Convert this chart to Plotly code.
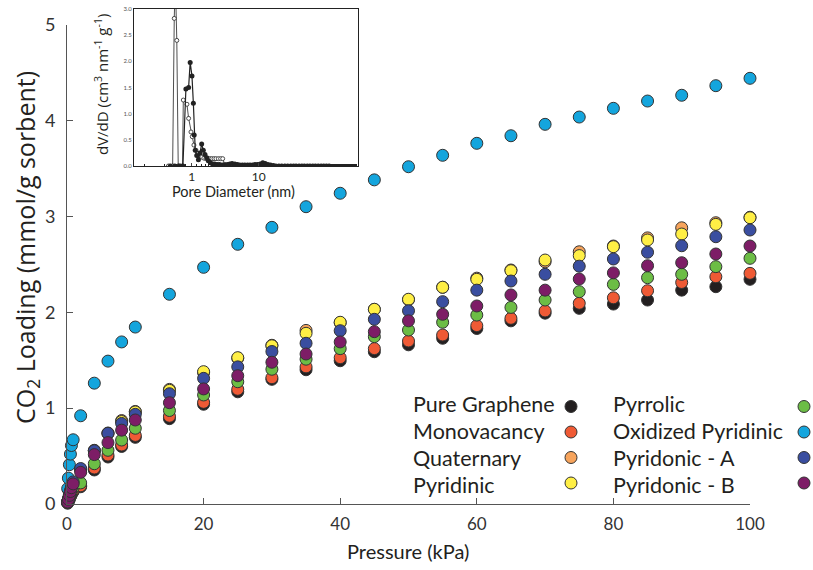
import plotly.graph_objects as go

# ---------------- main data ----------------
P_low = [0.1, 0.2, 0.35, 0.5, 0.65, 0.9]
P_main = [2, 4, 6, 8, 10, 15, 20, 25, 30, 35, 40, 45, 50, 55, 60, 65, 70, 75, 80, 85, 90, 95, 100]

series_names = ["Pure Graphene", "Monovacancy", "Quaternary", "Pyridinic",
                "Pyrrolic", "Oxidized Pyridinic", "Pyridonic - A", "Pyridonic - B"]
series_colors = ["#231F20", "#EF5A35", "#F7A45C", "#FFEF45",
                 "#6CBD45", "#14A5DD", "#3A4EA0", "#7D1D66"]

pure_graphene_low = [0.01, 0.03, 0.05, 0.08, 0.10, 0.13]
pure_graphene = [0.18, 0.355, 0.49, 0.60, 0.695, 0.89, 1.04, 1.17, 1.30, 1.40, 1.494, 1.588,
                 1.66, 1.728, 1.83, 1.91, 1.99, 2.04, 2.085, 2.127, 2.23, 2.266, 2.343]

monovacancy_low = [0.01, 0.03, 0.06, 0.08, 0.11, 0.14]
monovacancy = [0.19, 0.375, 0.51, 0.615, 0.715, 0.915, 1.06, 1.196, 1.317, 1.43, 1.526, 1.62,
               1.70, 1.762, 1.86, 1.936, 2.013, 2.093, 2.15, 2.224, 2.31, 2.37, 2.405]

quaternary_low = [0.02, 0.05, 0.09, 0.13, 0.17, 0.22]
quaternary = [0.36, 0.56, 0.74, 0.87, 0.965, 1.195, 1.37, 1.52, 1.655, 1.81, 1.89, 2.03,
              2.13, 2.26, 2.355, 2.44, 2.525, 2.63, 2.69, 2.775, 2.88, 2.933, 2.99]

pyridinic_low = [0.02, 0.05, 0.09, 0.13, 0.17, 0.22]
pyridinic = [0.355, 0.555, 0.735, 0.86, 0.96, 1.185, 1.38, 1.526, 1.65, 1.78, 1.895, 2.03,
             2.135, 2.26, 2.343, 2.433, 2.544, 2.59, 2.683, 2.753, 2.815, 2.916, 2.985]

pyrrolic_low = [0.02, 0.04, 0.07, 0.10, 0.13, 0.17]
pyrrolic = [0.22, 0.42, 0.56, 0.667, 0.79, 0.975, 1.137, 1.275, 1.405, 1.51, 1.62, 1.745,
            1.814, 1.895, 1.97, 2.05, 2.127, 2.214, 2.29, 2.36, 2.395, 2.475, 2.562]

oxidized_pyridinic_low = [0.16, 0.27, 0.41, 0.52, 0.61, 0.67]
oxidized_pyridinic = [0.92, 1.26, 1.49, 1.69, 1.845, 2.187, 2.468, 2.708, 2.885, 3.10, 3.24, 3.38,
                      3.517, 3.636, 3.761, 3.84, 3.959, 4.035, 4.126, 4.202, 4.262, 4.362, 4.439]

pyridonic_a_low = [0.02, 0.05, 0.10, 0.14, 0.18, 0.23]
pyridonic_a = [0.37, 0.555, 0.737, 0.84, 0.935, 1.15, 1.31, 1.43, 1.59, 1.676, 1.807, 1.926,
               2.015, 2.11, 2.23, 2.325, 2.395, 2.48, 2.555, 2.625, 2.693, 2.787, 2.857]

pyridonic_b_low = [0.02, 0.05, 0.09, 0.13, 0.17, 0.21]
pyridonic_b = [0.33, 0.515, 0.64, 0.77, 0.876, 1.056, 1.20, 1.338, 1.478, 1.564, 1.69, 1.797,
               1.91, 1.978, 2.065, 2.18, 2.23, 2.346, 2.41, 2.485, 2.516, 2.607, 2.69]

series_low = [pure_graphene_low, monovacancy_low, quaternary_low, pyridinic_low,
              pyrrolic_low, oxidized_pyridinic_low, pyridonic_a_low, pyridonic_b_low]
series_main = [pure_graphene, monovacancy, quaternary, pyridinic,
               pyrrolic, oxidized_pyridinic, pyridonic_a, pyridonic_b]

# ---------------- inset data (pore size distribution) ----------------
pore_d_filled = [0.48, 0.56, 0.65, 0.74, 0.82, 0.90, 0.95, 1.01, 1.06, 1.09, 1.13, 1.19, 1.26,
                 1.33, 1.41, 1.49, 1.58, 1.68, 1.77, 1.9, 2.05, 2.2, 2.4, 2.6, 2.85, 3.1, 3.4,
                 3.7, 4.0, 4.4, 4.8, 5.2, 5.7, 6.2, 6.8, 7.4, 8.1, 8.8, 9.6, 10.5, 11.5, 12.5,
                 13.7, 15, 16.5, 18, 20, 22, 24.5, 27, 30, 33, 36, 40, 44, 48, 53, 58, 64, 70,
                 77, 85, 93, 102, 112]
pore_v_filled = [0, 0, 0, 0, 1.47, 1.50, 1.98, 1.72, 1.20, 0.59, 0.30, 0.20, 0.12,
                 0.25, 0.42, 0.30, 0.22, 0.16, 0.10, 0.06, 0.04, 0.04, 0.03, 0.03, 0.02, 0.02, 0.03,
                 0.04, 0.05, 0.04, 0.03, 0.02, 0.02, 0.02, 0.02, 0.02, 0.02, 0.03, 0.03, 0.04, 0.06, 0.05,
                 0.03, 0.02, 0.01, 0, 0, 0, 0, 0, 0, 0, 0, 0, 0, 0, 0, 0, 0, 0,
                 0, 0, 0, 0, 0]
pore_d_open = [0.45, 0.52, 0.55, 0.57, 0.60, 0.63, 0.68, 0.73, 0.75, 0.85, 0.90, 0.976, 1.02,
               1.08, 1.16, 1.24, 1.33, 1.42, 1.52, 1.63, 1.75, 1.88, 2.0, 2.15, 2.3, 2.5, 2.7,
               2.9, 3.1, 3.4]
pore_v_open = [0, 0, 2.82, 3.6, 2.40, 0, 0, 0, 1.26, 1.18, 0.91, 0.65, 0.56,
               0.40, 0.30, 0.24, 0.20, 0.17, 0.15, 0.14, 0.14, 0.14, 0.14, 0.14, 0.14, 0.14, 0.14,
               0.14, 0.03, 0]

FONT = "Lato, 'Open Sans', sans-serif"
FONT_WIDE = "'Open Sans', Lato, sans-serif"

fig = go.Figure()

for name, col, lo, hi in zip(series_names, series_colors, series_low, series_main):
    fig.add_trace(go.Scatter(
        x=P_low + P_main, y=lo + hi, mode="markers", name=name,
        marker=dict(size=12, color=col, line=dict(color="#333333", width=1)),
        cliponaxis=False, showlegend=False, xaxis="x", yaxis="y"))

fig.add_trace(go.Scatter(
    x=pore_d_open, y=pore_v_open, mode="lines+markers",
    line=dict(color="#222222", width=0.8),
    marker=dict(size=4, color="white", line=dict(color="#222222", width=0.8)),
    showlegend=False, xaxis="x2", yaxis="y2"))
fig.add_trace(go.Scatter(
    x=pore_d_filled, y=pore_v_filled, mode="lines+markers",
    line=dict(color="#222222", width=1.2),
    marker=dict(size=5, color="#222222"),
    showlegend=False, xaxis="x2", yaxis="y2"))

ML, MR, MT, MB = 67, 63, 9, 66
W, H = 813, 570
PW, PH = W - ML - MR, H - MT - MB


def px(xp):
    return (xp - ML) / PW


def py(yp):
    return (H - MB - yp) / PH


annotations = [
    dict(text="CO<sub>2</sub> Loading (mmol/g sorbent)", x=px(26), y=py(248), xref="paper", yref="paper",
         textangle=-90, showarrow=False, font=dict(size=25, color="#231F20", family=FONT_WIDE),
         xanchor="center", yanchor="middle"),
    dict(text="Pressure (kPa)", x=px(408), y=py(551), xref="paper", yref="paper",
         showarrow=False, font=dict(size=20, color="#231F20", family=FONT),
         xanchor="center", yanchor="middle"),
    dict(text="Pore Diameter (nm)", x=px(233), y=py(191), xref="paper", yref="paper",
         showarrow=False, font=dict(size=14.5, color="#231F20", family=FONT),
         xanchor="center", yanchor="middle"),
    dict(text="dV/dD (cm<sup>3</sup> nm<sup>-1</sup> g<sup>-1</sup>)", x=px(101), y=py(85),
         xref="paper", yref="paper", textangle=-90, showarrow=False,
         font=dict(size=15, color="#231F20", family=FONT_WIDE), xanchor="center", yanchor="middle"),
]

shapes = []
leg_rows = [406.5, 432, 457.5, 483]
leg_text_y = [404, 431, 458, 485]
col_text_x = [411, 611]
col_mark_x = [571, 804]
for i, (name, col) in enumerate(zip(series_names, series_colors)):
    c, r = divmod(i, 4)
    annotations.append(dict(text=name, x=px(col_text_x[c]), y=py(leg_text_y[r]), xref="paper", yref="paper",
                            showarrow=False, xanchor="left", yanchor="middle",
                            font=dict(size=21.5, color="#231F20", family=FONT)))
    shapes.append(dict(type="circle", xref="paper", yref="paper", xsizemode="pixel", ysizemode="pixel",
                       xanchor=px(col_mark_x[c]), yanchor=py(leg_rows[r]), x0=-6, x1=6, y0=-6, y1=6,
                       fillcolor=col, line=dict(color="#333333", width=1)))

fig.update_layout(
    width=W, height=H, margin=dict(l=ML, r=MR, t=MT, b=MB, autoexpand=False),
    paper_bgcolor="white", plot_bgcolor="white",
    font=dict(family=FONT, color="#333333"),
    showlegend=False,
    xaxis=dict(domain=[0, 1], range=[0, 100], tickvals=[0, 20, 40, 60, 80, 100],
               ticks="inside", ticklen=6, tickcolor="#555555", showline=True, linecolor="#555555",
               linewidth=1, showgrid=False, zeroline=False, anchor="y", ticklabelstandoff=5,
               tickfont=dict(size=17, color="#333333")),
    yaxis=dict(domain=[0, py(24.5)], range=[0, 5], tickvals=[0, 1, 2, 3, 4, 5],
               ticks="inside", ticklen=6, tickcolor="#555555", showline=True, linecolor="#555555",
               linewidth=1, showgrid=False, zeroline=False, anchor="x", ticklabelstandoff=7,
               tickfont=dict(size=18, color="#333333")),
    xaxis2=dict(type="log", domain=[px(134), px(358)], range=[-0.86, 2.48], anchor="y2",
                tickvals=[1, 10], ticktext=["1", "10"], ticks="inside", ticklen=3,
                showline=True, mirror=True, linecolor="#222222", linewidth=1,
                showgrid=False, zeroline=False, tickfont=dict(size=12, color="#231F20"),
                minor=dict(ticks="inside", ticklen=2, tickcolor="#222222", showgrid=False)),
    yaxis2=dict(domain=[py(166), 1.0], range=[0, 3.0], anchor="x2",
                tickvals=[0, 0.5, 1.0, 1.5, 2.0, 2.5, 3.0], tickformat=".1f", ticks="",
                showline=True, mirror=True, linecolor="#222222", linewidth=1,
                showgrid=False, zeroline=False, tickfont=dict(size=6, color="#555555")),
    annotations=annotations,
    shapes=shapes,
)

fig.write_html("out.html")
